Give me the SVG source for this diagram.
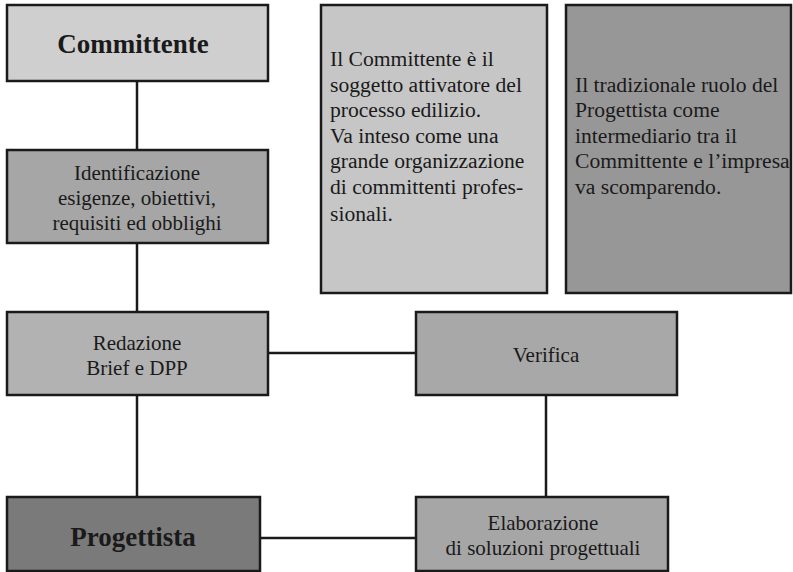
<svg xmlns="http://www.w3.org/2000/svg" width="793" height="572" viewBox="0 0 793 572">
<style>
.box{stroke:#1a1a1a;stroke-width:2.5}
text{font-family:'Liberation Serif','Times New Roman',Tinos,'DejaVu Serif',serif;font-size:21px;fill:#1a1a1a}
.i{font-size:21.6px}
.c{text-anchor:middle}
.b{font-weight:bold;font-size:27px}
.ln{stroke:#1a1a1a;stroke-width:2.5;fill:none}
</style>
<rect width="793" height="572" fill="#ffffff"/>
<g id="connectors">
<line class="ln" x1="137" y1="81" x2="137" y2="150"/>
<line class="ln" x1="137" y1="243" x2="137" y2="312"/>
<line class="ln" x1="137" y1="395" x2="137" y2="497"/>
<line class="ln" x1="268" y1="353" x2="416" y2="353"/>
<line class="ln" x1="546" y1="395" x2="546" y2="497"/>
<line class="ln" x1="260" y1="538" x2="416" y2="538"/>
</g>
<g id="committente">
<rect class="box" x="7" y="5" width="261" height="76" fill="#cfcfcf"/>
<text class="c b" x="133" y="53">Committente</text>
</g>
<g id="identificazione">
<rect class="box" x="7" y="150" width="261" height="93" fill="#a6a6a6"/>
<text class="c" x="137" y="180">Identificazione</text>
<text class="c" x="137" y="205">esigenze, obiettivi,</text>
<text class="c" x="137" y="230">requisiti ed obblighi</text>
</g>
<g id="info1">
<rect class="box" x="321" y="5" width="226" height="288" fill="#c6c6c6"/>
<text class="i" x="330" y="66">Il Committente è il</text>
<text class="i" x="330" y="92">soggetto attivatore del</text>
<text class="i" x="330" y="117">processo edilizio.</text>
<text class="i" x="330" y="143">Va inteso come una</text>
<text class="i" x="330" y="168">grande organizzazione</text>
<text class="i" x="330" y="194">di committenti profes-</text>
<text class="i" x="330" y="221">sionali.</text>
</g>
<g id="info2">
<rect class="box" x="566" y="5" width="225" height="288" fill="#979797"/>
<text class="i" x="575" y="92">Il tradizionale ruolo del</text>
<text class="i" x="575" y="117">Progettista come</text>
<text class="i" x="575" y="143">intermediario tra il</text>
<text class="i" x="575" y="168">Committente e l’impresa</text>
<text class="i" x="575" y="194">va scomparendo.</text>
</g>
<g id="redazione">
<rect class="box" x="7" y="312" width="261" height="83" fill="#b2b2b2"/>
<text class="c" x="137" y="350">Redazione</text>
<text class="c" x="137" y="375">Brief e DPP</text>
</g>
<g id="verifica">
<rect class="box" x="416" y="312" width="261" height="83" fill="#a8a8a8"/>
<text class="c" x="546" y="362">Verifica</text>
</g>
<g id="progettista">
<rect class="box" x="7" y="497" width="253" height="74" fill="#7a7a7a"/>
<text class="c b" x="133" y="546">Progettista</text>
</g>
<g id="elaborazione">
<rect class="box" x="416" y="497" width="252" height="74" fill="#a6a6a6"/>
<text class="c" x="543" y="530">Elaborazione</text>
<text class="c" x="543" y="555">di soluzioni progettuali</text>
</g>
</svg>
